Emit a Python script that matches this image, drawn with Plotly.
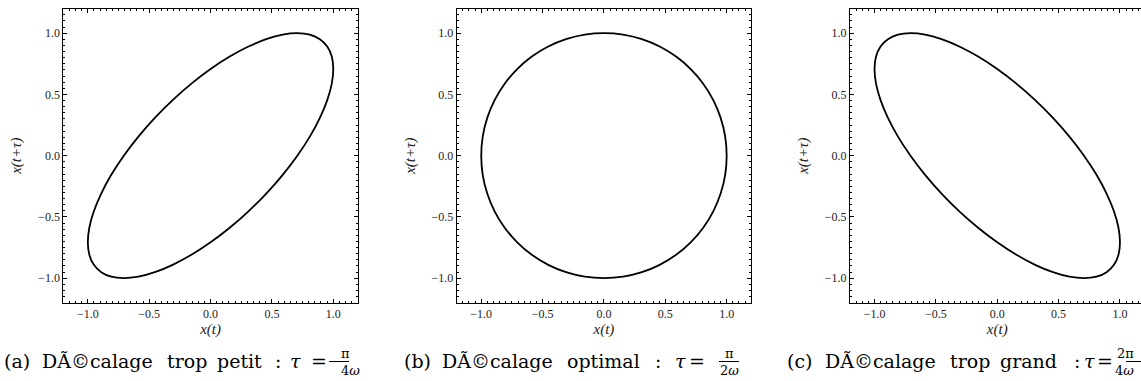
import plotly.graph_objects as go

W, H = 1146, 381

# Points: x(t) against x(t+tau)
x_t = [0.000, 0.156, 0.309, 0.454, 0.588, 0.707, 0.809, 0.891, 0.951, 0.988, 1.000,
       0.988, 0.951, 0.891, 0.809, 0.707, 0.588, 0.454, 0.309, 0.156, 0.000,
       -0.156, -0.309, -0.454, -0.588, -0.707, -0.809, -0.891, -0.951, -0.988, -1.000,
       -0.988, -0.951, -0.891, -0.809, -0.707, -0.588, -0.454, -0.309, -0.156, 0.000]

small_y = [0.707, 0.809, 0.891, 0.951, 0.988, 1.000, 0.988, 0.951, 0.891, 0.809, 0.707,
           0.588, 0.454, 0.309, 0.156, 0.000, -0.156, -0.309, -0.454, -0.588, -0.707,
           -0.809, -0.891, -0.951, -0.988, -1.000, -0.988, -0.951, -0.891, -0.809, -0.707,
           -0.588, -0.454, -0.309, -0.156, 0.000, 0.156, 0.309, 0.454, 0.588, 0.707]

opt_y = [1.000, 0.988, 0.951, 0.891, 0.809, 0.707, 0.588, 0.454, 0.309, 0.156, 0.000,
         -0.156, -0.309, -0.454, -0.588, -0.707, -0.809, -0.891, -0.951, -0.988, -1.000,
         -0.988, -0.951, -0.891, -0.809, -0.707, -0.588, -0.454, -0.309, -0.156, 0.000,
         0.156, 0.309, 0.454, 0.588, 0.707, 0.809, 0.891, 0.951, 0.988, 1.000]

big_y = [0.707, 0.588, 0.454, 0.309, 0.156, 0.000, -0.156, -0.309, -0.454, -0.588, -0.707,
         -0.809, -0.891, -0.951, -0.988, -1.000, -0.988, -0.951, -0.891, -0.809, -0.707,
         -0.588, -0.454, -0.309, -0.156, 0.000, 0.156, 0.309, 0.454, 0.588, 0.707,
         0.809, 0.891, 0.951, 0.988, 1.000, 0.988, 0.951, 0.891, 0.809, 0.707]

tick_vals = [-1.0, -0.5, 0.0, 0.5, 1.0]
tick_text = ["\u22121.0", "\u22120.5", "0.0", "0.5", "1.0"]

caption_words = [["(a)", "DÃ©calage", "trop", "petit"],
                 ["(b)", "DÃ©calage", "optimal"],
                 ["(c)", "DÃ©calage", "trop", "grand"]]
frac_num = ["π", "π", "2π"]
frac_den = ["4<i>ω</i>", "2<i>ω</i>", "4<i>ω</i>"]

# layout in page pixels (left, right of each plot area)
panels = [(63.3, 357.8), (456.7, 751.2), (850.0, 1144.5)]
plot_top, plot_bot = 8.7, 302.7
word_left = [[2, 40, 165, 215], [402, 440, 565], [785, 823, 948, 998]]
colon_x = [273, 658, 1082]
tau_x = [288, 680, 1097]
eq_x = [309, 697, 1115]
frac_x = [339, 729, 1136]
CAP_Y = 361


def px(v):
    return v / W


def py(v):
    return 1 - v / H


fig = go.Figure()
TICKFONT = dict(family="Liberation Serif", size=12, color="#222")
TITLEFONT = dict(family="Liberation Serif", size=15, color="#222")
CAPFONT = dict(family="DejaVu Serif", size=19, color="black")
FRACFONT = dict(family="DejaVu Serif", size=13, color="black")

for i, ys in enumerate([small_y, opt_y, big_y]):
    n = "" if i == 0 else str(i + 1)
    x0, x1 = panels[i]
    fig.add_trace(go.Scatter(x=x_t, y=ys, mode="lines", xaxis="x" + n, yaxis="y" + n,
                             line=dict(color="black", width=1.8, shape="spline", smoothing=0.8),
                             showlegend=False, hoverinfo="skip"))
    common = dict(showgrid=False, zeroline=False, showline=True, linecolor="black", linewidth=1,
                  mirror="ticks", ticks="inside", ticklen=4, tickcolor="black", tickwidth=1,
                  tickvals=tick_vals, ticktext=tick_text, tickfont=TICKFONT, range=[-1.2, 1.2],
                  minor=dict(ticks="inside", ticklen=2, dtick=0.05, tick0=0, tickcolor="black"))
    fig.layout["xaxis" + n] = dict(common, domain=[px(x0), px(x1)], anchor="y" + n,
                                   title=dict(text="<i>x(t)</i>", font=TITLEFONT, standoff=2))
    fig.layout["yaxis" + n] = dict(common, domain=[py(plot_bot), py(plot_top)], anchor="x" + n,
                                   title=dict(text="<i>x(t+τ)</i>", font=TITLEFONT, standoff=12))

    # caption: words, then ": τ =" and a stacked fraction
    for word, left in zip(caption_words[i], word_left[i]):
        fig.add_annotation(text=word, x=px(left), y=py(CAP_Y), xanchor="left", font=CAPFONT)
    fig.add_annotation(text=":", x=px(colon_x[i]), y=py(CAP_Y), font=CAPFONT)
    fig.add_annotation(text="<i>τ</i>", x=px(tau_x[i]), y=py(CAP_Y), font=CAPFONT)
    fig.add_annotation(text="=", x=px(eq_x[i]), y=py(CAP_Y), font=CAPFONT)
    fig.add_annotation(text=frac_num[i], x=px(frac_x[i]), y=py(353), font=FRACFONT)
    fig.add_annotation(text=frac_den[i], x=px(frac_x[i]), y=py(370), font=FRACFONT)
    fig.add_shape(type="line", xref="paper", yref="paper",
                  x0=px(frac_x[i] - 10), x1=px(frac_x[i] + 10), y0=py(361.5), y1=py(361.5),
                  line=dict(color="black", width=1))

fig.update_annotations(xref="paper", yref="paper", yanchor="middle", showarrow=False)
fig.update_layout(width=W, height=H, margin=dict(l=0, r=0, t=0, b=0),
                  paper_bgcolor="white", plot_bgcolor="white")

fig.write_html("out.html", config={"displayModeBar": False},
               post_script="document.body.style.margin='0';")
